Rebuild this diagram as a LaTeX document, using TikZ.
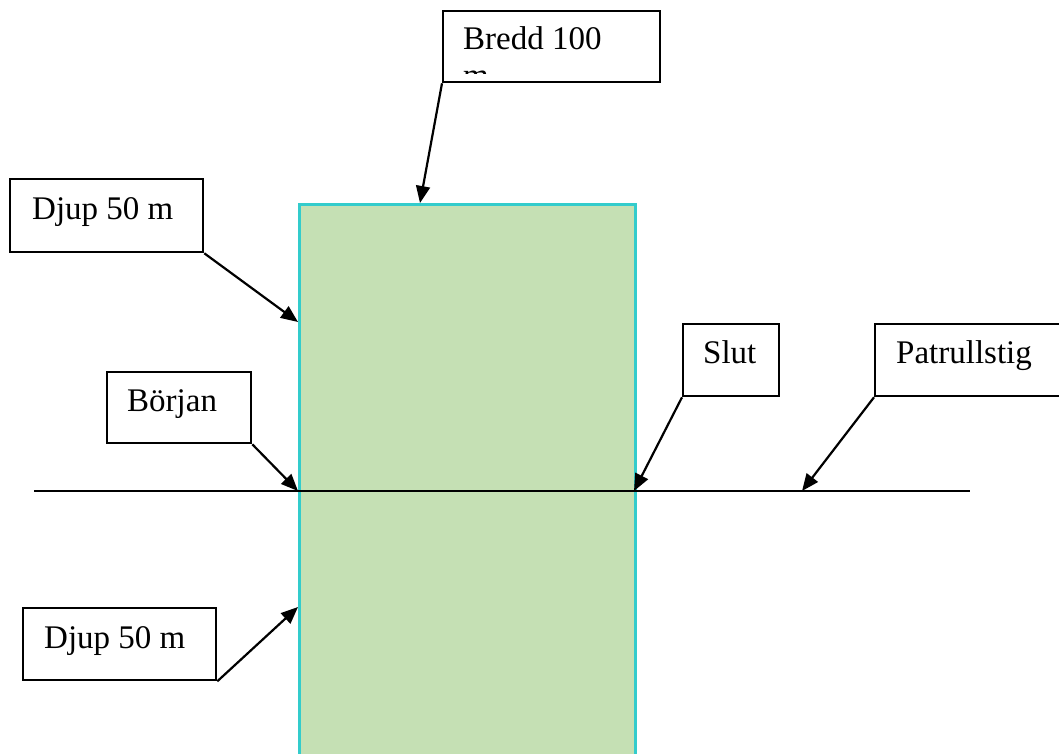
\documentclass[tikz,border=0pt]{standalone}
\usepackage{fontspec}
\setmainfont{Liberation Serif}
\usetikzlibrary{arrows.meta}
\definecolor{areafill}{HTML}{C5E0B4}
\definecolor{areaedge}{HTML}{33CCCC}
\tikzset{
  labelbox/.style={draw=black, line width=2.3pt, anchor=north west, inner sep=0pt, rectangle},
  labeltext/.style={anchor=base west, inner sep=0pt, font=\fontsize{33}{39}\selectfont},
  pointer/.style={line width=2.2pt, -{Triangle[length=17pt,width=14pt]}},
  pathline/.style={line width=2.2pt}
}
\begin{document}
\begin{tikzpicture}[x=1pt,y=-1pt]
\useasboundingbox (0,0) rectangle (1059,754);
\clip (0,0) rectangle (1059,754);
% area
\node[draw=areaedge, fill=areafill, line width=2.6pt, anchor=north west, inner sep=0pt,
      minimum width=336pt, minimum height=600pt] (area) at (298,203) {};
% patrol path
\coordinate (pL) at (34,491);
\coordinate (pR) at (970,491);
\draw[pathline] (pL) -- (pR);
% target points
\coordinate (tBredd) at (420,203);
\coordinate (tDjup1) at (298,322);
\coordinate (tStart) at (298,491);
\coordinate (tSlut) at (634,491);
\coordinate (tPath) at (802,491);
\coordinate (tDjup2) at (298,607);
% boxes
\node[labelbox, minimum width=217pt, minimum height=71pt] (bBredd) at (442,10) {};
\node[labelbox, minimum width=193pt, minimum height=73pt] (bDjup1) at (9,178) {};
\node[labelbox, minimum width=144pt, minimum height=71pt] (bStart) at (106,371) {};
\node[labelbox, minimum width=96pt, minimum height=72pt] (bSlut) at (682,323) {};
\node[labelbox, minimum width=220pt, minimum height=72pt] (bPath) at (874,323) {};
\node[labelbox, minimum width=193pt, minimum height=72pt] (bDjup2) at (22,607) {};
% texts
\node[labeltext] (xBredd) at (463,50) {Bredd 100};
\begin{scope}
\clip (442,10) rectangle (659,74);
\node[labeltext] (xBreddm) at (463,87) {m};
\end{scope}
\node[labeltext] (xDjup1) at (32,219) {Djup 50 m};
\node[labeltext] (xStart) at (127,411) {Början};
\node[labeltext] (xSlut) at (703,363) {Slut};
\node[labeltext] (xPath) at (896,363) {Patrullstig};
\node[labeltext] (xDjup2) at (44,648) {Djup 50 m};
% pointers
\draw[pointer] (bBredd.south west) -- (tBredd);
\draw[pointer] (bDjup1.south east) -- (tDjup1);
\draw[pointer] (bStart.south east) -- (tStart);
\draw[pointer] (bSlut.south west) -- (tSlut);
\draw[pointer] (bPath.south west) -- (tPath);
\draw[pointer] (bDjup2.south east) -- (tDjup2);
\end{tikzpicture}
\end{document}
